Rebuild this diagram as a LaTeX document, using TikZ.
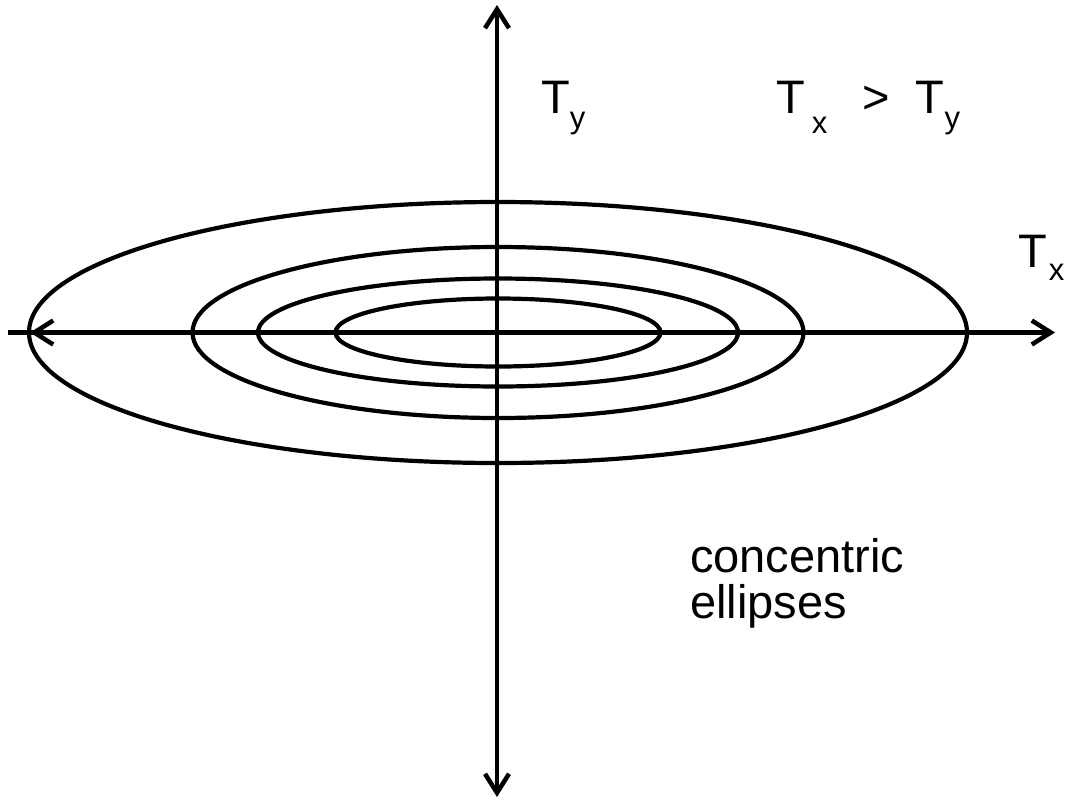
\documentclass[tikz,border=0pt]{standalone}
\usepackage{fontspec}
\setmainfont{Liberation Sans}
\usetikzlibrary{arrows.meta}
\newcommand\lowsub[2]{\raisebox{-#1pt}{\fontsize{31}{31}\selectfont #2}}
\tikzset{
  >={Straight Barb[length=19pt,width=24pt]},
  axisline/.style={line width=4.5pt},
  ell/.style={line width=4.2pt},
  lbl/.style={inner sep=0pt, anchor=base west, font=\fontsize{47}{46}\selectfont},
}
\begin{document}
\begin{tikzpicture}[x=1pt,y=-1pt]
\useasboundingbox (0,0) rectangle (1073,801);
% ellipses
\draw[ell] (498,332.5) ellipse [x radius=469, y radius=130.5];
\draw[ell] (498,332.5) ellipse [x radius=305.5, y radius=85.5];
\draw[ell] (498,332.5) ellipse [x radius=240, y radius=54];
\draw[ell] (498,332.5) ellipse [x radius=162.5, y radius=34];
% axes
\coordinate (xl) at (8,332.5);
\coordinate (xtip) at (30,332.5);
\coordinate (xtipb) at (50,332.5);
\coordinate (xr) at (1055,332.5);
\coordinate (yt) at (497,5);
\coordinate (yb) at (497,797);
\draw[axisline,->] (xl) -- (xr);
\draw[axisline,->] (xtipb) -- (xtip);
\draw[axisline,<->] (yt) -- (yb);
% labels
\node[lbl] (ty) at (541,113) {T\lowsub{15}{y}};
\node[lbl] (rel) at (776,113) {T\hspace{7pt}\lowsub{20}{x}\hspace{35pt}>\hspace{26pt}T\lowsub{15}{y}};
\node[lbl] (tx) at (1018,267) {T\hspace{2pt}\lowsub{13}{x}};
\node[lbl, align=left] (ce) at (690,618) {concentric\\ellipses};
\end{tikzpicture}
\end{document}
